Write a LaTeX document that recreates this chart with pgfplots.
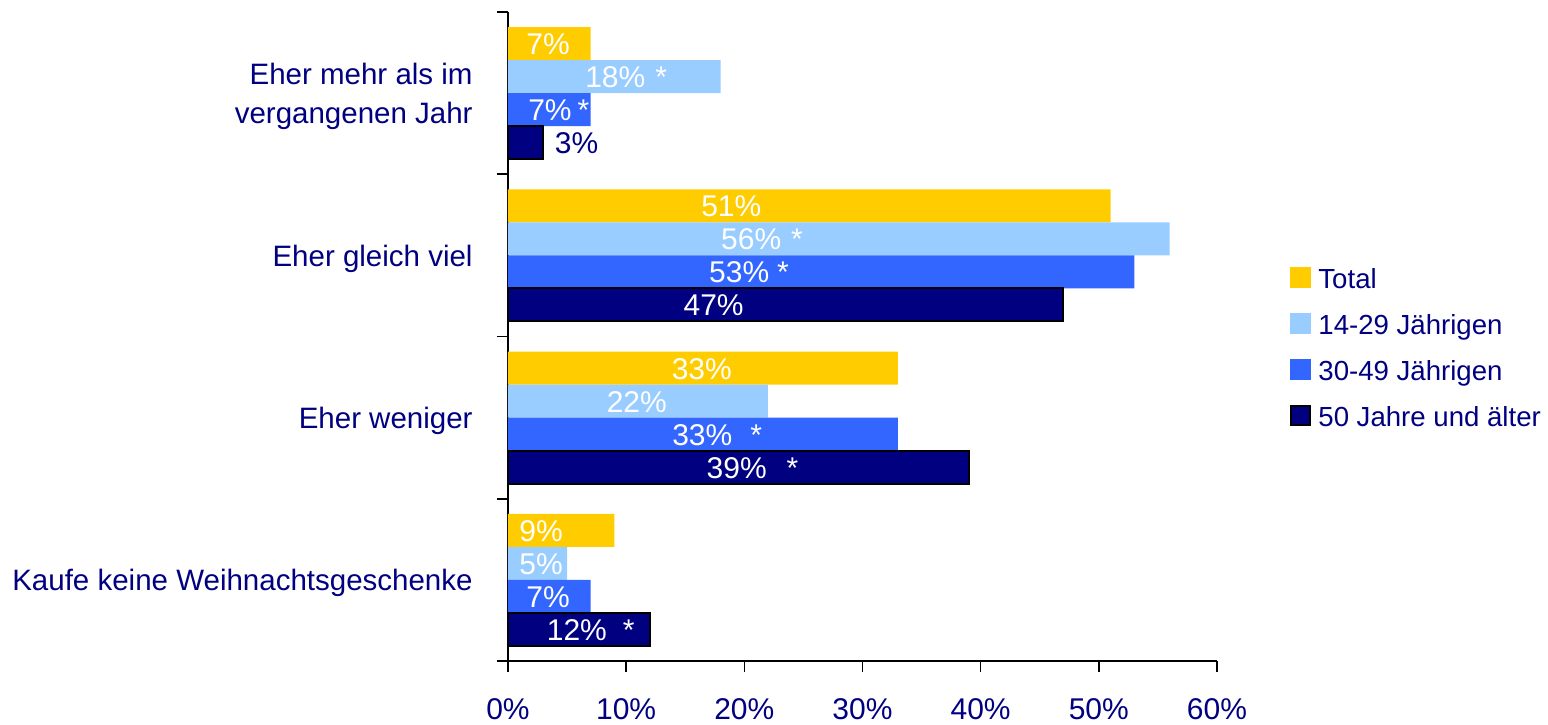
\documentclass[border=0pt]{standalone}
\usepackage{pgfplots}
\pgfplotsset{compat=1.18}
\usepackage{pgfplotstable}
\usepackage{fontspec}
\setmainfont{Liberation Sans}
\definecolor{cTot}{HTML}{FFCC00}
\definecolor{cYoung}{HTML}{99CCFF}
\definecolor{cMid}{HTML}{3366FF}
\definecolor{cOld}{HTML}{000080}
\definecolor{navy}{HTML}{000080}
\newcommand{\fs}{\fontsize{14.75}{19.5}\selectfont}
\newcommand{\fl}{\fontsize{13.8}{18}\selectfont}
\newcommand{\fb}{\fontsize{15}{18}\selectfont}
\tikzset{lbl/.style={font=\fb, text=white, inner sep=0pt, text height=11pt, text depth=0pt, anchor=center}}
\pgfplotstableread{
y tot young mid old
3 7 18 7 3
2 51 56 53 47
1 33 22 33 39
0 9 5 7 12
}\data
\begin{document}
\begin{tikzpicture}
\useasboundingbox (-254pt,-31.5pt) rectangle (520pt,330.5pt);
\begin{axis}[
  name=ax,
  scale only axis,
  width=354.5pt, height=324.5pt,
  xmin=0, xmax=60,
  ymin=-0.5, ymax=3.5,
  xbar,
  axis x line*=bottom, axis y line*=left,
  axis line style={-, line width=0.75pt, black},
  tick style={line width=0.75pt, black},
  tick align=outside,
  major tick length=5.5pt,
  minor tick length=5.5pt,
  xtick={0,10,...,60},
  xticklabel={\pgfmathprintnumber{\tick}\%},
  /pgf/number format/assume math mode=true,
  xticklabel style={font=\fb, text=navy, anchor=base, yshift=-23.5pt, inner sep=0pt},
  ytick={0,1,2,3},
  yticklabels={Kaufe keine Weihnachtsgeschenke, Eher weniger, Eher gleich viel, {Eher mehr als im\\vergangenen Jahr}},
  yticklabel style={font=\fs, text=navy, align=right, anchor=east, xshift=-12pt, yshift=-1.5pt, inner sep=0pt},
  every major y tick/.style={draw=none},
  minor ytick={-0.5,0.5,1.5,2.5,3.5},
  legend style={draw=none, fill=none, inner sep=0pt, at={(1.103,0.485)}, anchor=west,
    font=\fl, text=navy, row sep=12pt,
    nodes={inner sep=0pt, text height=11pt, text depth=0pt},
    /tikz/every odd column/.append style={column sep=3.5pt}},
  legend cell align=left,
]
\addplot[fill=cTot, draw=none, bar width=16.5pt, bar shift=24.75pt,
  legend image code/.code={\fill[cTot] (0pt,-5.25pt) rectangle (10.5pt,5.25pt);}] table[x=tot,y=y]{\data};
\addplot[fill=cYoung, draw=none, bar width=16.5pt, bar shift=8.25pt,
  legend image code/.code={\fill[cYoung] (0pt,-5.25pt) rectangle (10.5pt,5.25pt);}] table[x=young,y=y]{\data};
\addplot[fill=cMid, draw=none, bar width=16.5pt, bar shift=-8.25pt,
  legend image code/.code={\fill[cMid] (0pt,-5.25pt) rectangle (10.5pt,5.25pt);}] table[x=mid,y=y]{\data};
\addplot[fill=cOld, draw=black, line width=1pt, bar width=16.5pt, bar shift=-24.75pt,
  legend image code/.code={\draw[fill=cOld, draw=black, line width=1pt] (0.5pt,-4.75pt) rectangle (10pt,4.75pt);}] table[x=old,y=y]{\data};
\legend{Total, 14-29 Jährigen, 30-49 Jährigen, 50 Jahre und älter}
% labels: category 3
\node[lbl] at ([yshift=24.75pt]axis cs:3.4,3) {7\%};
\node[lbl] at ([yshift=8.25pt]axis cs:10.0,3) {18\%\hspace{5pt}*};
\node[lbl] at ([yshift=-8.25pt]axis cs:4.3,3) {7\%\hspace{3pt}*};
\node[lbl, text=navy] at ([yshift=-24.75pt]axis cs:5.8,3) {3\%};
% category 2
\node[lbl] at ([yshift=24.75pt]axis cs:18.9,2) {51\%};
\node[lbl] at ([yshift=8.25pt]axis cs:21.5,2) {56\%\hspace{5pt}*};
\node[lbl] at ([yshift=-8.25pt]axis cs:20.4,2) {53\%\hspace{4pt}*};
\node[lbl] at ([yshift=-24.75pt]axis cs:17.4,2) {47\%};
% category 1
\node[lbl] at ([yshift=24.75pt]axis cs:16.4,1) {33\%};
\node[lbl] at ([yshift=8.25pt]axis cs:10.9,1) {22\%};
\node[lbl] at ([yshift=-8.25pt]axis cs:17.7,1) {33\%\hspace{9pt}*};
\node[lbl] at ([yshift=-24.75pt]axis cs:20.7,1) {39\%\hspace{10pt}*};
% category 0
\node[lbl] at ([yshift=24.75pt]axis cs:2.8,0) {9\%};
\node[lbl] at ([yshift=8.25pt]axis cs:2.8,0) {5\%};
\node[lbl] at ([yshift=-8.25pt]axis cs:3.4,0) {7\%};
\node[lbl] at ([yshift=-24.75pt]axis cs:7.0,0) {12\%\hspace{8pt}*};
\end{axis}
\end{tikzpicture}
\end{document}
